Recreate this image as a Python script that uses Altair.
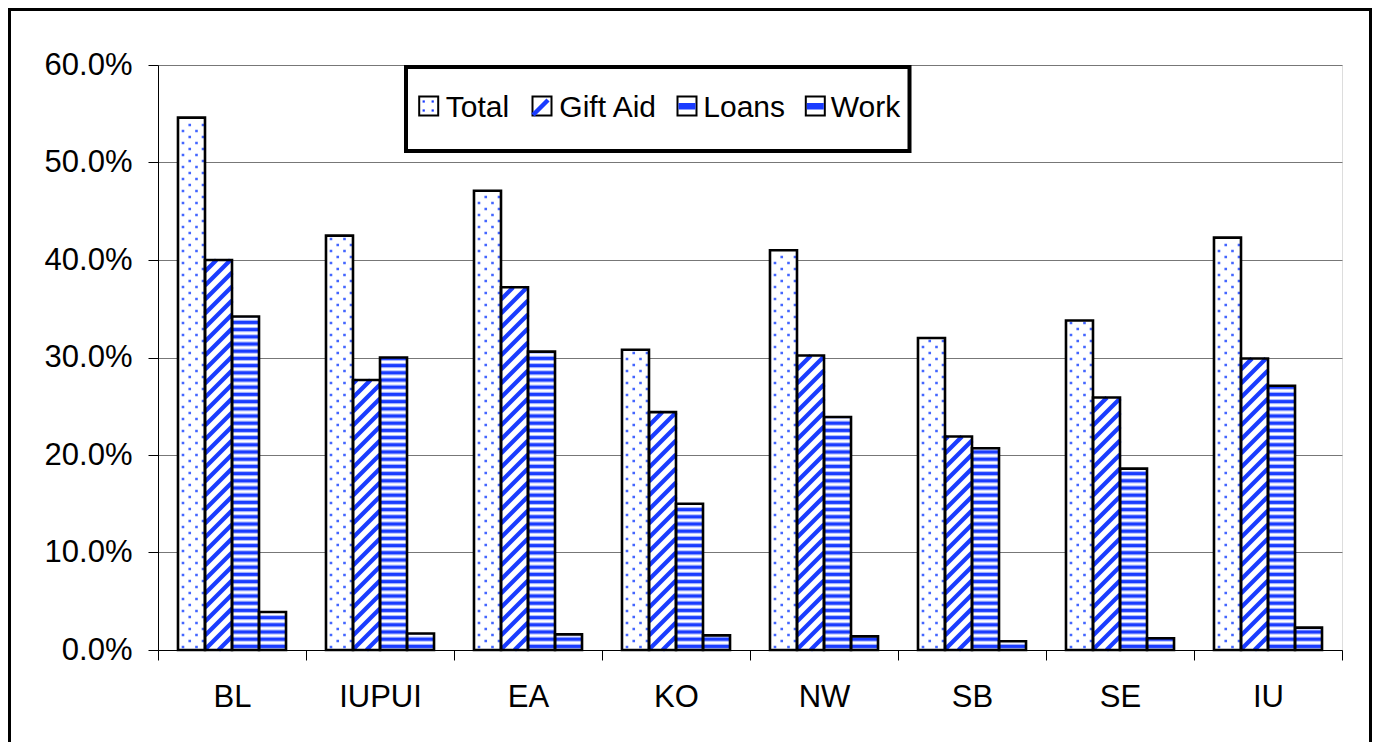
import altair as alt
import pandas as pd

# ---------------- data ----------------
CATEGORIES = ["BL", "IUPUI", "EA", "KO", "NW", "SB", "SE", "IU"]
SERIES = ["Total", "Gift Aid", "Loans", "Work"]
TOTAL = [0.546, 0.425, 0.471, 0.308, 0.410, 0.320, 0.338, 0.423]
GIFT_AID = [0.400, 0.277, 0.372, 0.244, 0.302, 0.219, 0.259, 0.299]
LOANS = [0.342, 0.300, 0.306, 0.150, 0.239, 0.207, 0.186, 0.271]
WORK = [0.039, 0.017, 0.016, 0.015, 0.014, 0.009, 0.012, 0.023]
Y_TICKS = [0.0, 0.1, 0.2, 0.3, 0.4, 0.5, 0.6]

VALUES = {"Total": TOTAL, "Gift Aid": GIFT_AID, "Loans": LOANS, "Work": WORK}

# ---------------- layout / style ----------------
W, H = 1184, 585
YMAX = 0.6
PX = H / YMAX            # pixels per unit of value on the y scale
HALF = 13.5              # half width of one bar in pixels
BLUE = "#1a3cff"
LIGHT = "#aebbff"
DOT = "#4466ff"
FONT = "Liberation Sans"

bars = pd.DataFrame(
    [{"cat": c, "series": s, "value": v} for s in SERIES for c, v in zip(CATEGORIES, VALUES[s])]
)

# horizontal stripe texture (Loans, Work)
hs = []
for s in ["Loans", "Work"]:
    for c, v in zip(CATEGORIES, VALUES[s]):
        top = v * PX
        k = 0
        while True:
            center = 3.6 + k * 7.2
            if center - 2.6 >= top:
                break
            lo_o, hi_o = max(center - 2.6, 0), min(center + 2.6, top)
            lo_i, hi_i = max(center - 1.5, 0), min(center + 1.5, top)
            if lo_i >= hi_i:
                lo_i = hi_i = top
            hs.append(dict(cat=c, series=s, lo_o=lo_o / PX, hi_o=hi_o / PX,
                           lo_i=lo_i / PX, hi_i=hi_i / PX))
            k += 1
hs = pd.DataFrame(hs)

# dotted texture (Total): one row of dots per datum
dots = []
for c, v in zip(CATEGORIES, TOTAL):
    top = v * PX
    j = 0
    while 3 + 6 * j < top - 2:
        dots.append(dict(cat=c, series="Total", yd=(3 + 6 * j) / PX,
                         row="A" if j % 2 == 0 else "B"))
        j += 1
dots = pd.DataFrame(dots)


def dot_path(xs, r=1.3):
    parts = []
    for xp in xs:
        a = (xp - r) / HALF
        b = -r / HALF
        s = 2 * r / HALF
        parts.append(f"M{a:.4f},{b:.4f}h{s:.4f}v{s:.4f}h{-s:.4f}Z")
    return "".join(parts)


ROW_A = dot_path([-8.5, 5.0])
ROW_B = dot_path([-1.75, 11.5])

# diagonal texture (Gift Aid), each stripe clipped to its bar
PER = 14.0
diag = []
for c, v in zip(CATEGORIES, GIFT_AID):
    top = v * PX
    k = -2
    while k * PER - HALF < top:
        yc = k * PER
        x0 = max(-HALF, -yc)
        x1 = min(HALF, top - yc)
        if x1 - x0 > 0.5:
            diag.append(dict(cat=c, series="Gift Aid", yc=yc / PX,
                             path=f"M{x0/HALF:.4f},{-x0/HALF:.4f}L{x1/HALF:.4f},{-x1/HALF:.4f}"))
        k += 1
diag = pd.DataFrame(diag)

# ---------------- encodings ----------------
x_enc = alt.X(
    "cat:N", sort=CATEGORIES,
    scale=alt.Scale(domain=CATEGORIES, paddingInner=0, paddingOuter=0),
    axis=alt.Axis(title=None, labelAngle=0, labelFontSize=31, labelFont=FONT,
                  labelColor="black", labelPadding=22, tickSize=10, tickBand="extent",
                  grid=False, domainColor="black", tickColor="black"),
)
xo_enc = alt.XOffset("series:N", sort=SERIES,
                     scale=alt.Scale(domain=SERIES, paddingInner=0, paddingOuter=0.74))
y_scale = alt.Scale(domain=[0, YMAX], nice=False, zero=True)
y_axis = alt.Axis(title=None, values=Y_TICKS, format=".1%", labelFontSize=31,
                  labelFont=FONT, labelColor="black", labelPadding=16, tickSize=10,
                  grid=True, gridColor="#777777", gridWidth=1,
                  domainColor="black", tickColor="black")


def Y(f):
    return alt.Y(f"{f}:Q", scale=y_scale, axis=y_axis)


base = alt.Chart(bars).mark_bar(fill="white", strokeWidth=0).encode(
    x=x_enc, xOffset=xo_enc, y=Y("value"))

stripes_o = alt.Chart(hs).mark_bar(fill=LIGHT, strokeWidth=0).encode(
    x=x_enc, xOffset=xo_enc, y=Y("lo_o"), y2=alt.Y2("hi_o"))
stripes_i = alt.Chart(hs).mark_bar(fill=BLUE, strokeWidth=0).encode(
    x=x_enc, xOffset=xo_enc, y=Y("lo_i"), y2=alt.Y2("hi_i"))


def dot_layer(row, path):
    return alt.Chart(dots).transform_filter(f"datum.row == '{row}'").mark_point(
        filled=True, fill=DOT, strokeWidth=0, opacity=1, size=(2 * HALF) ** 2, shape=path
    ).encode(x=x_enc, xOffset=xo_enc, y=Y("yd"))


diag_layer = alt.Chart(diag).mark_point(
    filled=False, stroke=BLUE, strokeWidth=4.3, size=(2 * HALF) ** 2, opacity=1
).encode(x=x_enc, xOffset=xo_enc, y=Y("yc"), shape=alt.Shape("path:N", scale=None))

outline = alt.Chart(bars).mark_bar(fillOpacity=0, stroke="black", strokeWidth=2.6).encode(
    x=x_enc, xOffset=xo_enc, y=Y("value"))


# ---------------- frame and legend ----------------
def one():
    return alt.Chart(alt.Data(values=[{"k": 0}]))


frame = one().mark_rect(fill="white", fillOpacity=0, stroke="black", strokeWidth=3).encode(
    x=alt.value(-148.5), x2=alt.value(1212.5), y=alt.value(-55.5), y2=alt.value(720))

legend_layers = [
    one().mark_rect(fill="white", stroke="black", strokeWidth=4).encode(
        x=alt.value(248), x2=alt.value(751.5), y=alt.value(2), y2=alt.value(86))
]
SWATCH_X = [270.7, 384.0, 529.0, 657.3]
TEXT_X = [287.7, 401.3, 545.3, 672.7]
for name, cx, tx in zip(SERIES, SWATCH_X, TEXT_X):
    legend_layers.append(
        one().mark_rect(fill="white", stroke="black", strokeWidth=2).encode(
            x=alt.value(cx - 9.5), x2=alt.value(cx + 9.5), y=alt.value(31.5), y2=alt.value(50.5)))
    if name in ("Loans", "Work"):
        legend_layers.append(
            one().mark_rect(fill=BLUE).encode(
                x=alt.value(cx - 8.5), x2=alt.value(cx + 8.5), y=alt.value(38), y2=alt.value(44.5)))
    elif name == "Gift Aid":
        legend_layers.append(
            one().mark_point(filled=False, stroke=BLUE, strokeWidth=4.5, size=225, opacity=1,
                             shape="M-1,1L1,-1").encode(x=alt.value(cx - 1.5), y=alt.value(42.5)))
    else:
        for ddx, ddy in [(-5, 36.5), (4, 36.5), (-5, 45.5), (4, 45.5)]:
            legend_layers.append(
                one().mark_square(size=5, color=BLUE, opacity=1).encode(
                    x=alt.value(cx + ddx), y=alt.value(ddy)))
    legend_layers.append(
        one().mark_text(align="left", baseline="alphabetic", fontSize=30, font=FONT,
                        color="black").encode(
            x=alt.value(tx), y=alt.value(52), text=alt.value(name)))

chart = alt.layer(
    frame, base, stripes_o, stripes_i,
    dot_layer("A", ROW_A), dot_layer("B", ROW_B),
    diag_layer, outline, *legend_layers,
).properties(
    width=W, height=H,
    autosize=alt.AutoSizeParams(type="none"),
    padding={"left": 150, "top": 57, "right": 30, "bottom": 92},
).configure_view(stroke="#888888", strokeWidth=1).configure(font=FONT)

chart.save("out.html", embed_options={"renderer": "svg", "actions": False})
